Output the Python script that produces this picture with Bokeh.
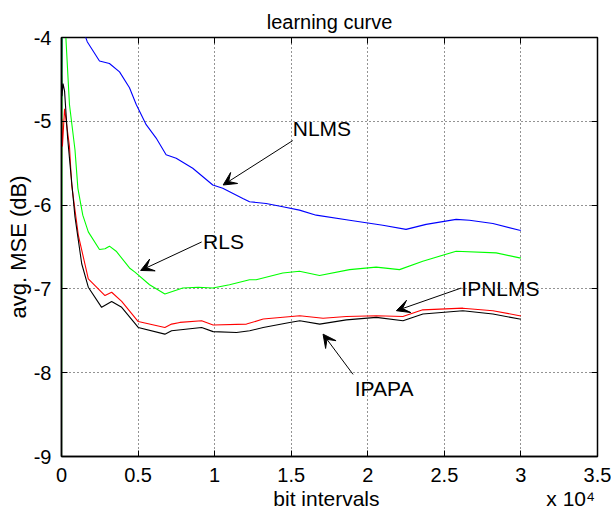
from bokeh.plotting import figure
from bokeh.models import FixedTicker, LinearAxis, Label, Arrow, VeeHead, Range1d
from bokeh.embed import file_html
from bokeh.resources import INLINE

# ---------------- data ----------------
nlms_x = [0, 30, 80, 1200, 1680, 2480, 3130, 3790, 4440, 4880, 5530, 6180, 6830, 7490,
          8570, 9880, 10530, 11840, 12280, 13360, 14450, 15540, 16630, 18810, 20980,
          22500, 23810, 25770, 26640, 28170, 29910, 30000]
nlms_y = [-4.76, -4.2, -3.0, -3.8, -4.05, -4.28, -4.31, -4.41, -4.60, -4.80, -5.04, -5.20,
          -5.40, -5.44, -5.56, -5.76, -5.80, -5.92, -5.96, -5.98, -6.02, -6.06, -6.12,
          -6.18, -6.24, -6.29, -6.23, -6.17, -6.18, -6.22, -6.30, -6.30]

rls_x = [0, 40, 300, 520, 880, 1070, 1390, 1750, 2480, 2840, 3130, 3570, 4440, 4795,
         5750, 6750, 7920, 8925, 9880, 10970, 12280, 12710, 14450, 15540, 16850, 18810,
         20550, 22070, 23590, 25770, 28380, 29910, 30000]
rls_y = [-9.2, -3.0, -4.05, -4.8, -5.34, -5.8, -6.12, -6.32, -6.53, -6.52, -6.49, -6.55,
         -6.75, -6.80, -6.95, -7.06, -6.99, -6.98, -6.99, -6.95, -6.89, -6.89, -6.81,
         -6.79, -6.84, -6.77, -6.74, -6.77, -6.67, -6.55, -6.57, -6.63, -6.63]

ipnlms_x = [0, 20, 60, 200, 520, 665, 1100, 1750, 2840, 3275, 3930, 5010, 6750, 7190,
            7730, 9150, 9900, 12080, 13170, 15560, 17080, 18600, 20560, 22290, 23590,
            26210, 28170, 29910, 30000]
ipnlms_y = [-5.45, -4.97, -5.3, -4.85, -5.3, -5.76, -6.36, -6.88, -7.08, -7.04, -7.15,
            -7.39, -7.46, -7.42, -7.40, -7.38, -7.43, -7.42, -7.36, -7.32, -7.35, -7.33,
            -7.32, -7.33, -7.25, -7.23, -7.26, -7.32, -7.32]

ipapa_x = [0, 30, 100, 200, 400, 600, 880, 1320, 1750, 2620, 3275, 3930, 5010, 6750,
           7190, 9150, 9900, 11430, 12290, 13170, 14900, 15560, 16860, 18600, 20560,
           22300, 23600, 26210, 28170, 29910, 30000]
ipapa_y = [-4.45, -4.7, -4.55, -4.64, -5.2, -5.6, -6.14, -6.70, -6.98, -7.22, -7.15,
           -7.22, -7.46, -7.54, -7.50, -7.46, -7.51, -7.52, -7.50, -7.46, -7.40, -7.38,
           -7.42, -7.37, -7.34, -7.38, -7.30, -7.26, -7.30, -7.36, -7.36]

x_ticks = [0, 5000, 10000, 15000, 20000, 25000, 30000, 35000]
x_tick_labels = ["0", "0.5", "1", "1.5", "2", "2.5", "3", "3.5"]
y_ticks = [-9, -8, -7, -6, -5, -4]
y_tick_labels = ["-9", "-8", "-7", "-6", "-5", "-4"]

FONT = "Liberation Sans"

p = figure(width=611, height=516, x_range=Range1d(0, 35000), y_range=Range1d(-9, -4),
           output_backend="svg", toolbar_location=None, title="learning curve",
           min_border_left=61, min_border_right=14, min_border_top=37, min_border_bottom=60)

p.background_fill_color = "white"
p.border_fill_color = "white"
p.outline_line_color = "black"
p.outline_line_width = 1.5
p.outline_line_alpha = 1.0

p.title.text_font = FONT
p.title.text_font_size = "20px"
p.title.text_font_style = "normal"
p.title.align = "center"
p.title.text_color = "black"
p.title.standoff = 10

xt = FixedTicker(ticks=x_ticks)
yt = FixedTicker(ticks=y_ticks)

for ax in (p.xaxis[0], p.yaxis[0]):
    ax.major_label_text_font = FONT
    ax.major_label_text_font_size = "20px"
    ax.major_label_text_color = "black"
    ax.axis_label_text_font = FONT
    ax.axis_label_text_font_style = "normal"
    ax.axis_label_text_color = "black"
    ax.axis_line_color = "black"
    ax.axis_line_width = 1.5
    ax.major_tick_in = 6
    ax.major_tick_out = 0
    ax.major_tick_line_color = "black"
    ax.minor_tick_line_color = None

p.xaxis.ticker = xt
p.yaxis.ticker = yt
p.xaxis.major_label_overrides = dict(zip(x_ticks, x_tick_labels))
p.yaxis.major_label_overrides = dict(zip(y_ticks, y_tick_labels))
p.yaxis.axis_label = "avg. MSE (dB)"
p.yaxis.axis_label_text_font_size = "22px"
p.xaxis.major_label_standoff = 11
p.yaxis.major_label_standoff = 10
p.yaxis.axis_label_standoff = 0

# second row below the x axis: axis title and the x10^4 exponent, side by side
x_title_row = LinearAxis(ticker=FixedTicker(ticks=[17300, 33250]),
                         major_label_overrides={17300: "bit intervals", 33250: "x 10\u2074"},
                         major_label_text_font=FONT, major_label_text_font_size="21px",
                         major_label_text_color="black", major_label_standoff=2,
                         major_tick_in=0, major_tick_out=0, major_tick_line_color=None,
                         minor_tick_line_color=None, axis_line_color=None)
p.add_layout(x_title_row, "below")

# ticks on top and right (box on), without labels
top_ax = LinearAxis(ticker=FixedTicker(ticks=x_ticks), major_label_text_font_size="1px",
                    major_label_text_color=None, major_tick_in=6, major_tick_out=0,
                    minor_tick_line_color=None, axis_line_color=None, major_label_standoff=0)
right_ax = LinearAxis(ticker=FixedTicker(ticks=y_ticks), major_label_text_font_size="1px",
                      major_label_text_color=None, major_tick_in=6, major_tick_out=0,
                      minor_tick_line_color=None, axis_line_color=None, major_label_standoff=0)
p.add_layout(top_ax, "above")
p.add_layout(right_ax, "right")

for g in (p.xgrid[0], p.ygrid[0]):
    g.grid_line_color = "black"
    g.grid_line_dash = "1 3"
    g.grid_line_width = 1
    g.grid_line_alpha = 0.85
p.xgrid.ticker = xt
p.ygrid.ticker = yt

# curves
p.line(nlms_x, nlms_y, color="#0000ff", line_width=1.1)
p.line(rls_x, rls_y, color="#00ff00", line_width=1.1)
p.line(ipnlms_x, ipnlms_y, color="#ff0000", line_width=1.1)
p.line(ipapa_x, ipapa_y, color="#000000", line_width=1.1)

# annotations
def note(text, tx, ty, x0, y0, x1, y1):
    p.add_layout(Label(x=tx, y=ty, text=text, text_font=FONT, text_font_size="21px",
                       text_baseline="middle", text_align="left", text_color="black"))
    p.add_layout(Arrow(end=VeeHead(size=13, fill_color="black", line_color="black"),
                       x_start=x0, y_start=y0, x_end=x1, y_end=y1,
                       line_color="black", line_width=1))

note("NLMS", 15100, -5.08, 15100, -5.23, 10556, -5.76)
note("RLS", 9245, -6.44, 9150, -6.44, 5167, -6.78)
note("IPNLMS", 26110, -6.99, 26100, -6.99, 21868, -7.26)
note("IPAPA", 19150, -8.19, 19037, -8.02, 17080, -7.54)

open("out.html", "w").write(file_html(p, INLINE))
